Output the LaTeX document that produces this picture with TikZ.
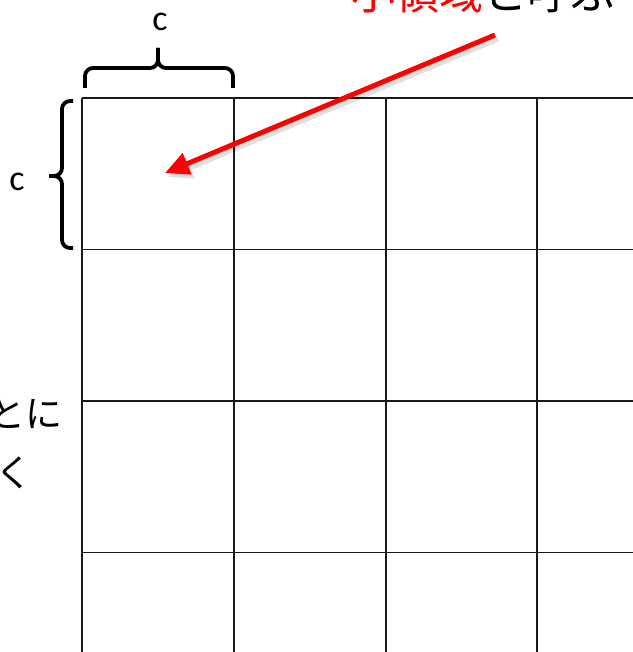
\documentclass[tikz,border=0pt]{standalone}
\usepackage{fontspec}
\setmainfont{Carlito}
\newfontfamily\jp{Noto Sans CJK JP}
\usetikzlibrary{arrows.meta}
\definecolor{pptred}{RGB}{255,0,0}
\begin{document}
\begin{tikzpicture}[x=1pt,y=-1pt,
  gridline/.style={line width=1.6pt,black!90},
  bracepath/.style={line width=3.8pt,black,line cap=butt,line join=round,rounded corners=8pt},
  jptext/.style={font=\jp\fontsize{44}{52}\selectfont,inner sep=0pt},
  jpleft/.style={font=\jp\fontsize{37}{44}\selectfont,inner sep=0pt},
  clabel/.style={font=\fontsize{36}{42}\selectfont,inner sep=0pt}]
\useasboundingbox (0,0) rectangle (632,652);
% grid
\foreach \y in {98,249.5,401,552.5} \draw[gridline] (82,\y) -- (640,\y);
\foreach \x in {82,234,386,537} \draw[gridline] (\x,98) -- (\x,660);
% top brace
\draw[bracepath] (85,88) -- (85,68) -- (158,68) -- (158,48);
\draw[bracepath] (233,88) -- (233,68) -- (158,68) -- (158,48);
% left brace
\draw[bracepath] (73,101) -- (62,101) -- (62,176) -- (49,176);
\draw[bracepath] (73,248) -- (62,248) -- (62,176) -- (49,176);
% labels
\node[clabel] (ctop) at (160,22) {c};
\node[clabel] (cleft) at (17,182) {c};
\node[jptext,anchor=base west] (title) at (351,10) {\textcolor{pptred}{小領域}と呼ぶ};
\node[jpleft,anchor=base east] (l1) at (63,427) {とに};
\node[jpleft,anchor=base east] (l2) at (33,486) {く};
% arrow
\coordinate (as) at (495,35);
\coordinate (ae) at (165,173);
\draw[line width=5pt,black,opacity=0.12,-{Triangle[length=24pt,width=22pt]}] ([shift={(3,4)}]as) -- ([shift={(3,4)}]ae);
\draw[line width=5pt,pptred,-{Triangle[length=24pt,width=22pt]}] (as) -- (ae);
\end{tikzpicture}
\end{document}
